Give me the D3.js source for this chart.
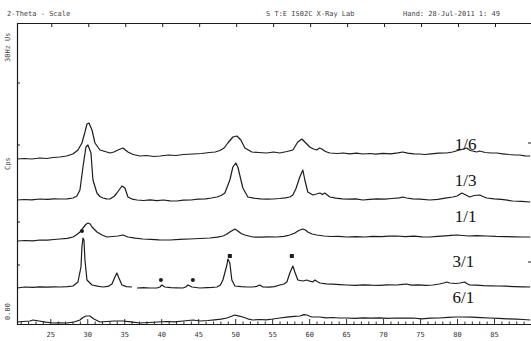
<!DOCTYPE html>
<html><head><meta charset="utf-8">
<script src="https://cdn.jsdelivr.net/npm/d3@7"></script>
<style>body{margin:0;background:#fff}svg{display:block}</style>
</head><body>
<script>
// ---- data (2-Theta in degrees, intensity in counts incl. stacking offset) ----
const ticks2Theta = [25,30,35,40,45,50,55,60,65,70,75,80,85];
const seriesNames = ["1/6","1/3","1/1","3/1","6/1"];
const s16 = [[20.5,1660],[21.5,1665],[22.5,1660],[23.6,1670],[24.5,1665],[25.4,1675],[26.3,1680],[27.2,1690],[28.07,1710],[28.74,1750],[29.28,1820],[29.69,1930],[29.96,2010],[30.23,2020],[30.64,1950],[31.04,1820],[31.72,1750],[32.4,1735],[33.07,1720],[33.6,1730],[34.15,1750],[34.82,1770],[35.5,1730],[36.2,1705],[37.12,1690],[38,1695],[39,1685],[39.82,1690],[41,1700],[42,1695],[43,1705],[44.28,1710],[45.5,1715],[46.5,1725],[47.3,1730],[47.93,1745],[48.5,1770],[49.01,1820],[49.69,1880],[50.23,1890],[50.77,1850],[51.31,1770],[52.26,1730],[53.2,1725],[54.28,1720],[55.2,1730],[56.04,1720],[57,1735],[57.8,1750],[58.47,1830],[59.01,1860],[59.42,1830],[60.09,1780],[60.6,1760],[61.04,1750],[61.4,1770],[61.72,1760],[62.2,1735],[62.8,1720],[63.8,1715],[64.6,1720],[65.5,1712],[66.4,1718],[67.26,1710],[68.2,1715],[69,1708],[70,1716],[71,1712],[72,1722],[72.66,1730],[73.3,1718],[74.2,1712],[74.96,1710],[75.6,1705],[76.5,1712],[77.5,1718],[78.61,1720],[79.4,1730],[80.36,1750],[81.31,1770],[81.8,1745],[82.66,1730],[83.07,1740],[83.8,1725],[84.6,1720],[85.36,1720],[86.2,1712],[87,1705],[87.8,1700],[88.45,1700],[89.2,1692],[89.9,1690]];
const s13 = [[20.5,1250],[21.5,1255],[22.5,1252],[23.6,1260],[24.6,1256],[25.5,1262],[26.3,1260],[27.3,1262],[28.07,1270],[28.6,1290],[29.01,1350],[29.42,1580],[29.82,1780],[30.09,1800],[30.5,1720],[30.77,1450],[31.31,1320],[31.7,1285],[32.12,1270],[32.6,1262],[33.07,1260],[33.6,1285],[34.01,1320],[34.69,1390],[35.09,1370],[35.5,1280],[36.1,1258],[36.72,1250],[37.6,1245],[38.5,1252],[39.4,1244],[40.3,1250],[41.2,1242],[42.12,1240],[43,1248],[44,1250],[45,1258],[46,1262],[46.8,1270],[47.53,1280],[48.1,1295],[48.61,1320],[49.28,1450],[49.69,1580],[50.09,1620],[50.36,1580],[51.04,1370],[51.72,1280],[52.5,1268],[53.4,1262],[54.3,1258],[55.09,1260],[56,1265],[56.8,1272],[57.39,1280],[57.8,1300],[58.2,1360],[58.74,1480],[59.15,1550],[59.42,1450],[59.82,1330],[60.5,1300],[61,1310],[61.45,1320],[61.8,1305],[62.12,1320],[62.8,1280],[63.6,1268],[64.5,1262],[65.4,1258],[66.3,1262],[67.26,1250],[68.2,1256],[69.2,1262],[70.2,1258],[71.2,1265],[72.2,1272],[72.66,1280],[73.2,1270],[74,1262],[75,1258],[76.31,1250],[77.4,1256],[78.4,1268],[79.42,1280],[80,1290],[80.64,1320],[81.2,1300],[81.72,1280],[82.3,1295],[83.07,1300],[83.5,1285],[84.01,1270],[85,1262],[86,1256],[86.8,1248],[87.53,1240],[88.7,1236],[89.9,1230]];
const s11 = [[20.5,840],[21.6,845],[22.6,842],[23.6,850],[24.6,848],[25.5,855],[26.3,860],[27.3,866],[28.07,880],[28.6,905],[29.01,930],[29.42,970],[29.8,1005],[30.09,1020],[30.4,1010],[30.64,980],[31.31,930],[32,900],[32.66,880],[33.4,885],[34.15,890],[34.82,900],[35.5,880],[36.5,868],[37.53,860],[38.6,856],[39.7,852],[41.18,850],[42.5,856],[43.8,860],[45.2,865],[46.58,870],[47.6,878],[48.34,890],[48.8,905],[49.28,930],[49.96,960],[50.36,940],[50.8,915],[51.31,900],[52.39,880],[53.5,878],[54.5,882],[55.64,880],[56.6,886],[57.4,900],[58.07,920],[58.6,945],[59.15,960],[59.5,950],[59.82,930],[60.4,910],[61.04,900],[62,890],[63,885],[64,886],[65.09,880],[66.3,884],[67.5,880],[68.6,886],[69.8,883],[70.8,888],[71.85,890],[73,884],[74.2,888],[75.3,882],[76.31,880],[77.3,886],[78.4,892],[79.2,896],[79.96,900],[80.8,895],[81.6,890],[82.6,893],[84.01,890],[85.2,886],[86.5,884],[87.8,882],[88.8,880],[89.9,880]];
const s31 = [[20.5,370],[21.58,380],[22.6,376],[23.6,382],[24.6,378],[25.5,382],[26.3,380],[27.3,384],[28.07,390],[28.74,430],[29.15,580],[29.28,780],[29.42,870],[29.55,850],[29.69,650],[29.96,450],[30.64,400],[31.4,388],[32.12,380],[32.8,386],[33.34,410],[33.74,480],[34.01,520],[34.28,470],[34.69,400],[35.3,384],[36.04,380],[36.3,null],[36.72,370],[37.6,374],[38.5,370],[39.42,370],[39.82,380],[40.09,400],[40.5,380],[41.3,374],[42.1,372],[42.93,370],[43.3,380],[43.61,400],[44.15,380],[45.23,370],[46.2,374],[46.9,376],[47.53,380],[48,400],[48.34,450],[48.88,600],[49.01,660],[49.28,620],[49.55,450],[49.96,390],[50.8,384],[51.6,380],[52.39,380],[52.9,386],[53.34,400],[53.74,380],[54.6,378],[55.3,384],[56.04,400],[56.6,410],[56.99,430],[57.39,520],[57.8,590],[58.07,530],[58.47,450],[59.15,440],[59.69,450],[60.1,438],[60.5,430],[60.77,450],[61.1,435],[61.45,420],[62.3,412],[63.2,408],[64.1,404],[65.09,400],[66.2,396],[67.3,402],[68.4,398],[69.5,396],[70.6,402],[71.85,400],[72.6,406],[73.2,410],[73.8,398],[74.8,402],[75.8,396],[76.72,400],[77.6,410],[78.2,420],[78.61,430],[79.01,420],[79.8,415],[80.4,420],[81.04,430],[81.3,415],[81.72,400],[82.6,398],[83.6,394],[84.5,392],[85.36,390],[86.6,388],[87.8,384],[88.9,382],[89.9,380]];
const s61 = [[20.5,30],[21.3,35],[22.26,40],[22.66,50],[23.5,40],[24.4,28],[25.36,20],[26.3,22],[27.26,20],[28.2,30],[29.01,50],[29.4,75],[29.82,90],[30.36,90],[30.9,60],[31.72,30],[32.6,35],[33.7,40],[34.82,40],[35.9,32],[37.12,20],[38.3,25],[39.5,30],[40.7,35],[41.8,32],[43,40],[44.28,50],[45.23,40],[46.3,45],[47.2,52],[48.1,58],[48.88,70],[49.5,88],[49.96,100],[50.4,92],[51.04,80],[51.7,62],[52.39,50],[53.3,55],[54.2,52],[55.1,60],[56.04,70],[57,78],[58,86],[58.74,90],[59.3,104],[59.69,100],[60,90],[60.36,80],[61.45,80],[62.3,72],[63.2,75],[64.1,70],[65.09,70],[66.2,66],[67.3,72],[68.4,68],[69.5,72],[70.6,66],[71.8,70],[73,68],[74.01,70],[75.2,62],[76.4,68],[77.6,70],[78.8,76],[79.8,80],[80.77,80],[82,78],[83.2,74],[84.4,70],[85.6,66],[86.8,62],[88,58],[89,55],[89.9,50]];
const circleMarks = [[29.28,940],[39.96,450],[44.28,450]];
const squareMarks = [[49.28,690],[57.66,690]];
const labelPos = [[79.7,1750],[79.7,1390],[79.7,1030],[79.4,580],[79.4,220]];

// ---- drawing ----
const W=531,H=341;
const svg=d3.select("body").append("svg").attr("width",W).attr("height",H);
const x=d3.scaleLinear().domain([20.5,90]).range([17,531]);
const y=d3.scaleLinear().domain([0,3020]).range([325,23]);
const ink="#1c1c1c";

// frame
svg.append("line").attr("x1",17).attr("x2",531).attr("y1",23.5).attr("y2",23.5).attr("stroke",ink).attr("stroke-width",1.2);
svg.append("line").attr("x1",17.5).attr("x2",17.5).attr("y1",23).attr("y2",325).attr("stroke",ink).attr("stroke-width",1.2);

// bottom axis
const bottom=svg.append("g").attr("transform","translate(0,324)")
  .call(d3.axisBottom(x).tickValues(ticks2Theta).tickSize(0).tickPadding(8).tickFormat(d3.format("d")));
bottom.select(".domain").attr("stroke",ink).attr("stroke-width",1.2);
bottom.selectAll("text").attr("font-family","DejaVu Sans Mono").attr("font-size",7).attr("fill","#333");
const minor=d3.range(21,90,1);
svg.append("g").selectAll("line").data(minor).join("line")
  .attr("x1",d=>x(d)+0.5).attr("x2",d=>x(d)+0.5)
  .attr("y1",324).attr("y2",d=>d%5===0?319:321.5).attr("stroke",ink).attr("stroke-width",0.9);
// top ticks
svg.append("g").selectAll("line").data(ticks2Theta).join("line")
  .attr("x1",d=>x(d)+1.5).attr("x2",d=>x(d)+1.5).attr("y1",23).attr("y2",27).attr("stroke",ink).attr("stroke-width",1);
// left ticks
svg.append("g").selectAll("line").data([2420,1800,1030,600]).join("line")
  .attr("x1",17).attr("x2",20).attr("y1",d=>y(d)).attr("y2",d=>y(d)).attr("stroke",ink).attr("stroke-width",1);
svg.append("g").selectAll("line").data([1820,630]).join("line")
  .attr("x1",528).attr("x2",531).attr("y1",d=>y(d)).attr("y2",d=>y(d)).attr("stroke",ink).attr("stroke-width",1);

// header texts
const hdr=svg.append("g").attr("font-family","DejaVu Sans Mono").attr("font-size",7).attr("fill","#444");
hdr.append("text").attr("x",7).attr("y",16).text("2-Theta - Scale");
hdr.append("text").attr("x",266).attr("y",16).text("S T:E IS02C  X-Ray Lab");
hdr.append("text").attr("x",403).attr("y",16).text("Hand: 28-Jul-2011 1: 49");
const yl=svg.append("g").attr("font-family","DejaVu Sans Mono").attr("font-size",7).attr("fill","#444");
yl.append("text").attr("transform","translate(10,62) rotate(-90)").text("30Hz Us");
yl.append("text").attr("transform","translate(10,170) rotate(-90)").text("Cps");
yl.append("text").attr("transform","translate(10,320) rotate(-90)").text("0.00");

// traces
const line=d3.line().defined(d=>d[1]!==null).x(d=>x(d[0])).y(d=>y(d[1]));
[s16,s13,s11,s31,s61].forEach(s=>{
  svg.append("path").attr("d",line(s)).attr("fill","none").attr("stroke",ink).attr("stroke-width",1.2).attr("stroke-linejoin","round");
});

// markers
svg.append("g").selectAll("circle").data(circleMarks).join("circle")
  .attr("cx",d=>x(d[0])).attr("cy",d=>y(d[1])).attr("r",2).attr("fill",ink);
svg.append("g").selectAll("rect").data(squareMarks).join("rect")
  .attr("x",d=>x(d[0])-2).attr("y",d=>y(d[1])-2).attr("width",4).attr("height",4).attr("fill",ink);

// series labels
svg.append("g").selectAll("text").data(seriesNames).join("text")
  .attr("x",(d,i)=>x(labelPos[i][0])).attr("y",(d,i)=>y(labelPos[i][1]))
  .attr("font-family","Liberation Serif").attr("font-size",17).attr("fill","#111")
  .text(d=>d);
</script>
</body></html>
